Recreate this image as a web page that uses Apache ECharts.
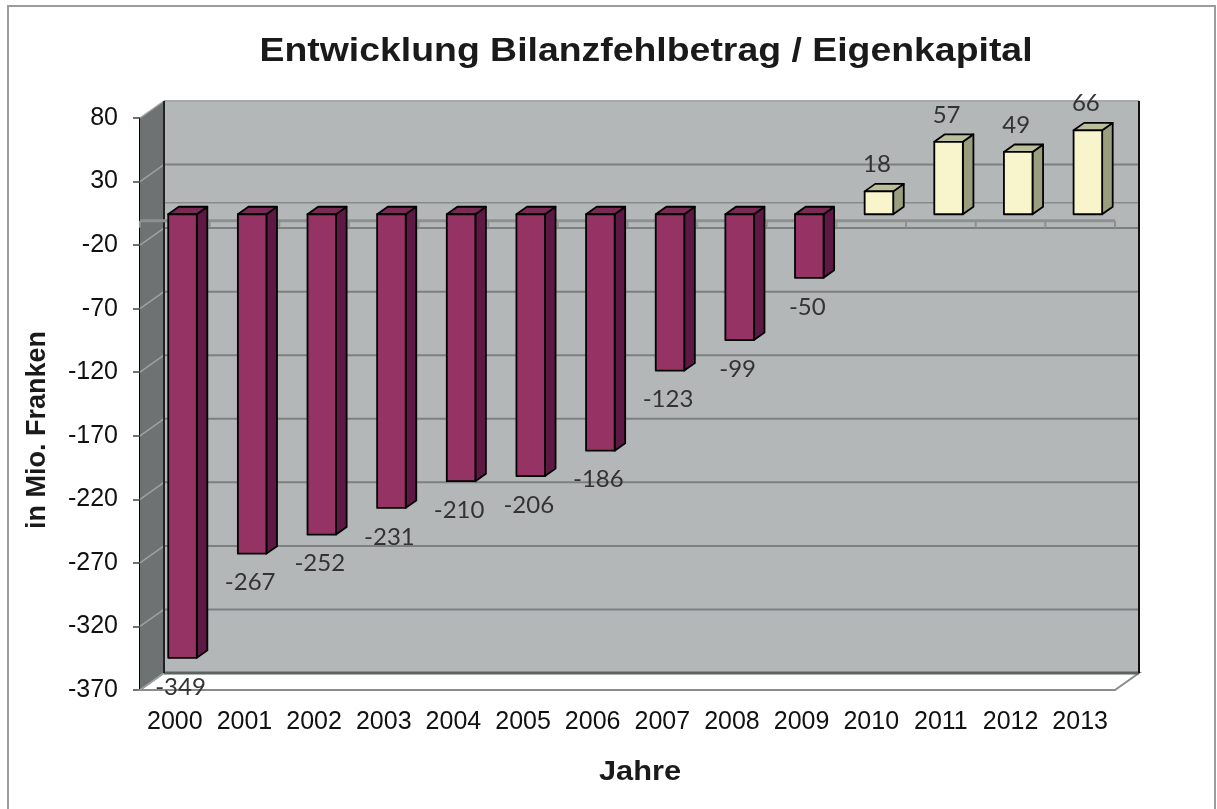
<!DOCTYPE html>
<html>
<head>
<meta charset="utf-8">
<title>Entwicklung Bilanzfehlbetrag / Eigenkapital</title>
<script src="https://cdn.jsdelivr.net/npm/echarts@6/dist/echarts.min.js"></script>
<style>
  html, body { margin: 0; padding: 0; background: #fff; }
  #chart { width: 1217px; height: 809px; }
</style>
</head>
<body>
<div id="chart"></div>
<script>
const years = ['2000', '2001', '2002', '2003', '2004', '2005', '2006', '2007', '2008', '2009', '2010', '2011', '2012', '2013']
const values = [-349, -267, -252, -231, -210, -206, -186, -123, -99, -50, 18, 57, 49, 66]
const yTicks = [80, 30, -20, -70, -120, -170, -220, -270, -320, -370]

// 3D depth of the walls (px)
const DX = 24
const DY = -17

const renderFrame = (params, api) => {
  const cs = params.coordSys
  const left = cs.x
  const right = cs.x + cs.width
  const yTop = api.coord([0, yTicks[0]])[1]
  const yBot = api.coord([0, yTicks[yTicks.length - 1]])[1]
  const y0 = api.coord([0, 0])[1]
  const kids = []

  // back wall, left wall, floor
  kids.push({ type: 'rect', shape: { x: left + DX, y: yTop + DY, width: cs.width, height: yBot - yTop }, style: { fill: '#b4b7b8' } })
  kids.push({ type: 'polygon', shape: { points: [[left, yTop], [left + DX, yTop + DY], [left + DX, yBot + DY], [left, yBot]] }, style: { fill: '#6e7273' } })
  kids.push({ type: 'polygon', shape: { points: [[left, yBot], [left + DX, yBot + DY], [right + DX, yBot + DY], [right, yBot]] }, style: { fill: '#ffffff', stroke: '#8c8c8c', lineWidth: 2 } })

  // gridlines on back wall + diagonals on left wall
  yTicks.forEach((t, i) => {
    const y = api.coord([0, t])[1]
    const edge = i === 0
    kids.push({ type: 'line', shape: { x1: left + DX, y1: y + DY, x2: right + DX, y2: y + DY }, style: { stroke: edge ? '#a6a9aa' : '#7d8081', lineWidth: 2 } })
    kids.push({ type: 'line', shape: { x1: left, y1: y, x2: left + DX, y2: y + DY }, style: { stroke: '#9ea1a2', lineWidth: 1.5 } })
  })

  // back edge of the zero axis
  kids.push({ type: 'line', shape: { x1: left + DX, y1: y0 + DY, x2: right + DX, y2: y0 + DY }, style: { stroke: '#888b8c', lineWidth: 1.5 } })

  // wall edges
  kids.push({ type: 'line', shape: { x1: left + DX, y1: yBot + DY, x2: right + DX, y2: yBot + DY }, style: { stroke: '#5f6263', lineWidth: 3 } })
  kids.push({ type: 'line', shape: { x1: right + DX, y1: yTop + DY, x2: right + DX, y2: yBot + DY }, style: { stroke: '#111', lineWidth: 2 } })
  kids.push({ type: 'line', shape: { x1: left + DX, y1: yTop + DY, x2: left + DX, y2: yBot + DY }, style: { stroke: '#222', lineWidth: 2 } })

  // front zero axis with tick marks at category borders
  const band = api.size([1, 0])[0]
  kids.push({ type: 'line', shape: { x1: left, y1: y0 + 1, x2: right, y2: y0 + 1 }, style: { stroke: '#8d9091', lineWidth: 3 } })
  for (let k = 0; k <= years.length; k++) {
    const x = left + k * band
    kids.push({ type: 'line', shape: { x1: x, y1: y0 + 1, x2: x, y2: y0 + 8 }, style: { stroke: '#8d9091', lineWidth: 2 } })
  }

  return { type: 'group', children: kids }
}

const renderBar = (params, api) => {
  const idx = api.value(0)
  const v = api.value(1)
  const band = api.size([1, 0])[0]
  const p0 = api.coord([idx, 0])
  const p1 = api.coord([idx, v])
  const off = 0.32
  const dep = 0.44
  const w = band * 0.41
  const cx = p0[0] + off * DX
  const xL = cx - w / 2
  const xR = cx + w / 2
  const yT = Math.min(p0[1], p1[1]) + off * DY
  const yB = Math.max(p0[1], p1[1]) + off * DY
  const ddx = dep * DX
  const ddy = dep * DY
  const neg = v < 0
  const c = neg
    ? { front: '#953464', top: '#7a2a54', side: '#5d1944' }
    : { front: '#f8f5cc', top: '#bcbf9c', side: '#9a9e7e' }
  const line = { stroke: '#000', lineWidth: 1.8, lineJoin: 'round' }

  return {
    type: 'group',
    children: [
      { type: 'polygon', shape: { points: [[xR, yT], [xR + ddx, yT + ddy], [xR + ddx, yB + ddy], [xR, yB]] }, style: Object.assign({ fill: c.side }, line) },
      { type: 'polygon', shape: { points: [[xL, yT], [xL + ddx, yT + ddy], [xR + ddx, yT + ddy], [xR, yT]] }, style: Object.assign({ fill: c.top }, line) },
      { type: 'rect', shape: { x: xL, y: yT, width: w, height: yB - yT }, style: Object.assign({ fill: c.front }, line) },
      {
        type: 'text',
        x: cx - 2,
        y: neg ? yB + 29 : yT - 27,
        style: {
          text: String(v),
          fill: '#333333',
          fontSize: 24,
          fontFamily: 'Lato',
          align: 'center',
          verticalAlign: 'middle'
        }
      }
    ]
  }
}

const chart = echarts.init(document.getElementById('chart'), null, { renderer: 'canvas' })

const option = {
  animation: false,
  backgroundColor: '#ffffff',
  grid: { left: 140, right: 102, top: 118, bottom: 119 },
  xAxis: {
    type: 'category',
    data: years,
    axisLine: { show: false },
    axisTick: { show: false },
    axisLabel: { interval: 0, fontSize: 25, fontFamily: 'Liberation Sans', color: '#111', margin: 20 }
  },
  yAxis: {
    type: 'value',
    min: -370,
    max: 80,
    splitLine: { show: false },
    axisLine: { show: true, lineStyle: { color: '#000', width: 2 } },
    axisTick: { show: true, customValues: yTicks, length: 7, lineStyle: { color: '#444', width: 1.5 } },
    axisLabel: { customValues: yTicks, fontSize: 25, fontFamily: 'Liberation Sans', color: '#111', margin: 22 }
  },
  graphic: [
    { type: 'rect', silent: true, shape: { x: 8, y: 6, width: 1207, height: 812 }, style: { fill: 'none', stroke: '#9c9c9c', lineWidth: 2 } },
    {
      type: 'text', x: 646, y: 52, scaleX: 1.1,
      style: { text: 'Entwicklung Bilanzfehlbetrag / Eigenkapital', font: 'bold 34px "Liberation Sans"', fill: '#1a1a1a', align: 'center', verticalAlign: 'middle' }
    },
    {
      type: 'text', x: 38, y: 430, rotation: Math.PI / 2,
      style: { text: 'in Mio. Franken', font: 'bold 27px "Liberation Sans"', fill: '#1a1a1a', align: 'center', verticalAlign: 'middle' }
    },
    {
      type: 'text', x: 640, y: 772, scaleX: 1.1,
      style: { text: 'Jahre', font: 'bold 28px "Liberation Sans"', fill: '#1a1a1a', align: 'center', verticalAlign: 'middle' }
    }
  ],
  series: [
    {
      name: 'frame',
      type: 'custom',
      silent: true,
      data: [[0, 0]],
      renderItem: renderFrame,
      clip: false
    },
    {
      name: 'Bilanz',
      type: 'custom',
      data: values.map((v, i) => [i, v]),
      renderItem: renderBar,
      clip: false
    }
  ]
}

chart.setOption(option)
</script>
</body>
</html>
